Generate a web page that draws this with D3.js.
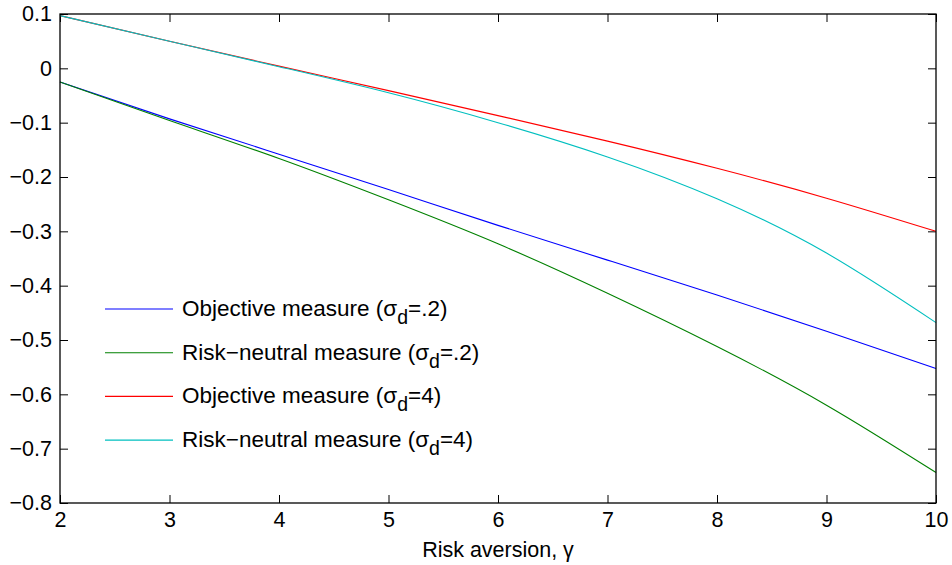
<!DOCTYPE html>
<html>
<head>
<meta charset="utf-8">
<script src="https://cdn.jsdelivr.net/npm/d3@7"></script>
<style>
  body { margin: 0; background: #fff; }
  text { font-family: "Liberation Sans", Arial, sans-serif; }
</style>
</head>
<body>
<div id="container"></div>
<script>
var gammas = [2, 3, 4, 5, 6, 7, 8, 9, 10]
var objLow = [-0.025, -0.093, -0.158, -0.223, -0.289, -0.353, -0.417, -0.484, -0.5525]
var rnLow = [-0.025, -0.096, -0.166, -0.242, -0.323, -0.414, -0.512, -0.620, -0.744]
var objHigh = [0.097, 0.050, 0.004, -0.041, -0.087, -0.134, -0.184, -0.239, -0.300]
var rnHigh = [0.097, 0.050, 0.003, -0.045, -0.100, -0.163, -0.240, -0.340, -0.468]

var xTicks = [2, 3, 4, 5, 6, 7, 8, 9, 10]
var yTicks = [0.1, 0, -0.1, -0.2, -0.3, -0.4, -0.5, -0.6, -0.7, -0.8]

var seriesNames = [
  ["Objective measure (σ", "=.2)"],
  ["Risk\u2212neutral measure (σ", "=.2)"],
  ["Objective measure (σ", "=4)"],
  ["Risk\u2212neutral measure (σ", "=4)"]
]
var seriesColors = ["#0000ff", "#008000", "#ff0000", "#00bfbf"]

function drawChart() {
  var width = 952
  var height = 565
  var margin = {top: 14, right: 16, bottom: 62, left: 60}
  var fontSize = "21.5px"

  var svg = d3.select("#container")
    .append("svg")
    .attr("width", width)
    .attr("height", height)

  var x = d3.scaleLinear()
    .domain([2, 10])
    .range([margin.left, width - margin.right])
  var y = d3.scaleLinear()
    .domain([-0.8, 0.1])
    .range([height - margin.bottom, margin.top])

  var fmt = function(d) {
    return d === 0 ? "0" : d3.format(".1f")(d).replace("-", "\u2212")
  }

  // axes with inward ticks on all four sides
  var bottom = svg.append("g")
    .attr("transform", "translate(0," + y(-0.8) + ")")
    .call(d3.axisBottom(x).tickValues(xTicks).tickSizeInner(-8).tickSizeOuter(0).tickPadding(9))
  var left = svg.append("g")
    .attr("transform", "translate(" + x(2) + ",0)")
    .call(d3.axisLeft(y).tickValues(yTicks).tickFormat(fmt).tickSizeInner(-8).tickSizeOuter(0).tickPadding(8))
  var top = svg.append("g")
    .attr("transform", "translate(0," + y(0.1) + ")")
    .call(d3.axisTop(x).tickValues(xTicks).tickSizeInner(-8).tickSizeOuter(0).tickFormat(""))
  var right = svg.append("g")
    .attr("transform", "translate(" + x(10) + ",0)")
    .call(d3.axisRight(y).tickValues(yTicks).tickSizeInner(-8).tickSizeOuter(0).tickFormat(""))

  svg.selectAll(".domain").remove()
  svg.selectAll(".tick line").attr("stroke", "#000").attr("stroke-width", 1)
  svg.selectAll(".tick text")
    .attr("fill", "#000")
    .style("font-size", fontSize)
  bottom.selectAll(".tick text").attr("dy", "0.72em")

  // plot lines
  var series = [objLow, rnLow, objHigh, rnHigh]
  var line = d3.line()
    .x(function(d, i) { return x(gammas[i]) })
    .y(function(d) { return y(d) })
    .curve(d3.curveNatural)

  svg.append("g")
    .selectAll("path")
    .data(series)
    .enter()
    .append("path")
    .attr("d", line)
    .attr("fill", "none")
    .attr("stroke", function(d, i) { return seriesColors[i] })
    .attr("stroke-width", 1.1)

  // frame
  svg.append("rect")
    .attr("x", x(2))
    .attr("y", y(0.1))
    .attr("width", x(10) - x(2))
    .attr("height", y(-0.8) - y(0.1))
    .attr("fill", "none")
    .attr("stroke", "#000")
    .attr("stroke-width", 1.3)

  // legend
  var legend = svg.append("g")
  seriesNames.forEach(function(name, i) {
    var ly = 309 + i * 43.7
    legend.append("line")
      .attr("x1", 105).attr("x2", 173)
      .attr("y1", ly).attr("y2", ly)
      .attr("stroke", seriesColors[i])
      .attr("stroke-width", 1.1)
    var t = legend.append("text")
      .attr("x", 182)
      .attr("y", ly + 7)
      .style("font-size", "22.5px")
      .attr("fill", "#000")
    t.append("tspan").text(name[0])
    t.append("tspan").attr("dy", 8).style("font-size", "19.5px").text("d")
    t.append("tspan").attr("dy", -8).text(name[1])
  })

  // x label
  svg.append("text")
    .attr("x", (x(2) + x(10)) / 2)
    .attr("y", 557)
    .attr("text-anchor", "middle")
    .style("font-size", fontSize)
    .attr("fill", "#000")
    .text("Risk aversion, \u03b3")
}

drawChart()
</script>
</body>
</html>
